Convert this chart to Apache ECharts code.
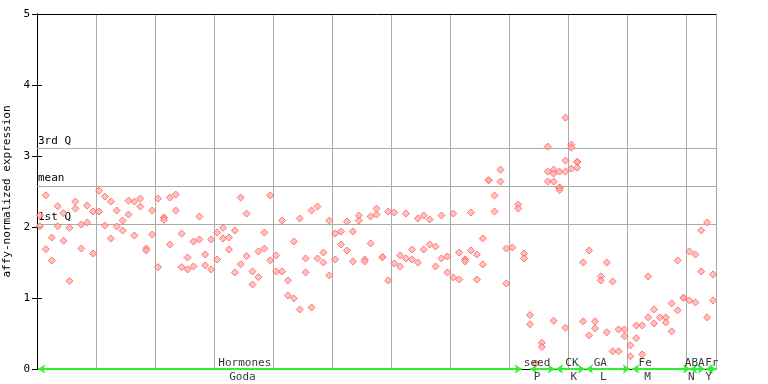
<!DOCTYPE html>
<html>
<head>
<meta charset="utf-8">
<script src="https://cdn.jsdelivr.net/npm/echarts@6/dist/echarts.min.js"></script>
<style>html,body{margin:0;padding:0;background:#fff}#c{width:768px;height:384px}</style>
</head>
<body>
<div id="c"></div>
<script>
// expression values per sample (sample index = position in list)
const expression = [
  [2.166,2.011],[2.447,1.688],[1.852,1.528],[2.293,2.011],[2.194,1.805],
  [1.988,1.238],[2.358,2.260],[2.035,1.697],[2.302,2.063],[2.218,1.627],
  [2.513,2.218],[2.428,2.021],[2.358,1.838],[2.232,2.007],[2.091,1.950],
  [2.372,2.175],[2.358,1.880],[2.400,2.288],[1.697,1.669],[2.232,1.894],
  [2.400,1.435],[2.133,2.133,2.100],[2.414,1.753],[2.457,2.232],[1.908,1.435],
  [1.571,1.402],[1.795,1.444],[2.147,1.824],[1.613,1.458],[1.824,1.402],
  [1.922,1.542],[1.988,1.838],[1.852,1.683],[1.950,1.360],[2.414,1.477],
  [2.189,1.590],[1.374,1.191],[1.655,1.294],[1.922,1.697],[2.445,1.531],
  [1.599,1.374],[2.091,1.374],[1.247,1.036],[1.796,0.994],[2.119,0.839],
  [1.557,1.360],[2.232,0.867],[2.288,1.557],[1.641,1.500],[2.091,1.318],
  [1.908,1.543],[1.936,1.754],[2.077,1.669],[1.936,1.515],[2.162,2.091],
  [1.543,1.515],[2.148,1.768],[2.260,2.176],[1.575,1.575],[2.218,1.247],
  [2.204,1.487],[1.599,1.444],[2.190,1.557],[1.683,1.543],[2.119,1.500],
  [2.162,1.683],[2.105,1.754],[1.725,1.444],[2.162,1.557],[1.585,1.360],
  [2.190,1.290],[1.641,1.261],[1.543,1.543,1.515],[2.204,1.669],[1.613,1.261],
  [1.838,1.473],[2.658,2.658],[2.443,2.218],[2.808,2.640],[1.697,1.205],
  [1.711],[2.316,2.260],[1.627,1.557],[0.76,0.63],[0.08],
  [0.37,0.31],[3.132,2.780,2.640],[2.808,2.752,2.640,0.68],[2.780,2.555,2.555,2.52],[3.54,2.935,2.780,0.58],
  [3.160,3.118,2.822],[2.916,2.916,2.836],[1.500,0.671],[1.669,0.474],[0.671,0.572],
  [1.304,1.247],[1.500,0.516],[1.233,0.249],[0.558,0.249],[0.558,0.460],
  [0.333,0.178],[0.614,0.432],[0.614,0.206],[1.304,0.727],[0.839,0.642],
  [0.727],[0.727,0.656],[0.924,0.530],[1.529,0.826],[1.003,1.003],
  [1.655,0.966],[1.613,0.938],[1.951,1.374],[2.063,0.727],[1.332,0.966]
];
const sampleCount = 115;
const quartileNames = ['3rd Q','mean','1st Q'];
const quartileValues = [3.108, 2.584, 2.035];
// experiment groups: [start, end] in sample units
const groupNames = ['Hormones','seed','CK','GA','Fe','ABA','Fr'];
const groupRanges = [[0.2,82.1],[83.5,87.7],[87.9,92.8],[93.0,100.4],[100.8,110.6],[110.6,113.1],[113.3,115]];
const groupLabelPos = [35.2,84.7,90.6,95.4,103.0,111.4,114.3];
const codeNames = ['Goda','P','K','L','M','N','Y'];
const codeLabelPos = [34.8,84.7,90.9,95.9,103.4,110.8,113.8];
const yTicks = [0,1,2,3,4,5];

const pts = [];
expression.forEach((vals, i) => vals.forEach(v => pts.push([i + 0.5, v])));

const FONT = 'DejaVu Sans Mono';
const chart = echarts.init(document.getElementById('c'), null, {renderer:'canvas'});
chart.setOption({
  animation: false,
  backgroundColor: '#fff',
  grid: {left: 37, right: 52, top: 14, bottom: 15, containLabel: false, outerBoundsMode: 'none'},
  xAxis: [{
    type: 'value', min: 0, max: sampleCount, interval: 10,
    axisLine: {show: true, lineStyle: {color: '#000', width: 1}},
    axisTick: {show: false}, axisLabel: {show: false},
    splitLine: {show: true, lineStyle: {color: '#aaaaaa', width: 1}}
  },{
    type: 'value', min: 0, max: sampleCount, position: 'top',
    axisLine: {show: true, onZero: false, lineStyle: {color: '#000', width: 1}},
    axisTick: {show: false}, axisLabel: {show: false}, splitLine: {show: false}
  }],
  yAxis: [{
    type: 'value', min: yTicks[0], max: yTicks[yTicks.length-1], interval: 1,
    name: 'affy-normalized expression', nameLocation: 'middle', nameGap: 21,
    nameTextStyle: {fontFamily: FONT, fontSize: 11, color: '#000'},
    axisLine: {show: true, lineStyle: {color: '#000', width: 1}},
    axisTick: {show: true, inside: true, length: 5, lineStyle: {color: '#000'}},
    axisLabel: {fontFamily: FONT, fontSize: 11, color: '#000', margin: 7},
    splitLine: {show: false}
  },{
    type: 'value', min: 0, max: 5, interval: 1, position: 'right',
    axisLine: {show: true, lineStyle: {color: '#000', width: 1}},
    axisTick: {show: true, inside: true, length: 5, lineStyle: {color: '#000'}},
    axisLabel: {show: false}, splitLine: {show: false}
  }],
  series: [{
    type: 'scatter', data: pts, symbol: 'diamond', symbolSize: 7,
    itemStyle: {color: '#ffb0b0', borderColor: '#ff5a5a', borderWidth: 1},
    z: 5,
    markLine: {
      silent: true, symbol: 'none',
      lineStyle: {color: '#aaaaaa', type: 'solid', width: 1},
      label: {show: true, position: 'insideStartTop', formatter: '{b}',
        fontFamily: FONT, fontSize: 11, color: '#000', distance: [1, 2]},
      data: quartileNames.map((n, i) => ({name: n, yAxis: quartileValues[i]}))
    }
  },{
    type: 'scatter', data: [], z: 6,
    markLine: {
      silent: true, symbol: ['arrow','arrow'], symbolSize: [7, 7],
      lineStyle: {color: '#33ee33', type: 'solid', width: 2},
      label: {show: false},
      data: groupRanges.map(r => [{coord: [r[0], 0]}, {coord: [r[1], 0]}])
    }
  },{
    type: 'scatter', symbolSize: 0, z: 7, silent: true,
    data: groupNames.map((n, i) => ({value: [groupLabelPos[i], 0], name: n})),
    label: {show: true, position: 'inside', offset: [0, -6], formatter: '{b}',
      fontFamily: FONT, fontSize: 11, color: '#000'}
  },{
    type: 'scatter', symbolSize: 0, z: 7, silent: true,
    data: codeNames.map((n, i) => ({value: [codeLabelPos[i], 0], name: n})),
    label: {show: true, position: 'inside', offset: [0, 8], formatter: '{b}',
      fontFamily: FONT, fontSize: 11, color: '#000'}
  }]
});
</script>
</body>
</html>
